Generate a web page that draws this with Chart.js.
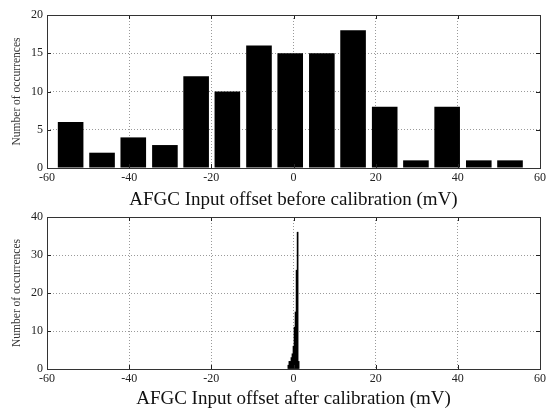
<!DOCTYPE html>
<html>
<head>
<meta charset="utf-8">
<script src="https://cdn.jsdelivr.net/npm/chart.js@4/dist/chart.umd.min.js"></script>
<style>
  html, body { margin: 0; padding: 0; background: #fff; }
  .stage { position: relative; width: 549px; height: 410px; overflow: hidden; }
  canvas { display: block; position: absolute; left: 0; }
</style>
</head>
<body>
<div class="stage">
  <canvas id="before" width="549" height="212" style="top:0"></canvas>
  <canvas id="after" width="549" height="205" style="top:205px"></canvas>
</div>
<script>
// Histogram of the AFGC input offset before calibration (mV bin centres, counts)
const binCentersBefore = [-54.25, -46.6, -39.0, -31.3, -23.7, -16.1, -8.4, -0.8, 6.9, 14.5, 22.2, 29.8, 37.4, 45.1, 52.7];
const countsBefore     = [6, 2, 4, 3, 12, 10, 16, 15, 15, 18, 8, 1, 8, 1, 1];

// Histogram after calibration: narrow bins packed around 0 mV
const binCentersAfter = [-1.25, -1.0, -0.75, -0.5, -0.25, 0.0, 0.25, 0.5, 0.75, 1.0, 1.25];
const countsAfter     = [1, 2, 2, 3, 4, 6, 11, 15, 26, 36, 2];

const offsetMin = -60, offsetMax = 60, offsetStep = 20;
const countMaxBefore = 20, countStepBefore = 5;
const countMaxAfter = 40, countStepAfter = 10;

const SERIF = '"Liberation Serif", "DejaVu Serif", serif';
const GRID = '#9a9a9a';

// Box frame with inward tick marks on all four sides
const framePlugin = {
  id: 'frame',
  afterDatasetsDraw(chart) {
    const { ctx, chartArea: a, scales } = chart;
    ctx.save();
    ctx.strokeStyle = '#222';
    ctx.lineWidth = 1;
    const len = 4;
    ctx.beginPath();
    scales.x.ticks.forEach(t => {
      const px = Math.round(scales.x.getPixelForValue(t.value)) + 0.5;
      ctx.moveTo(px, a.bottom); ctx.lineTo(px, a.bottom - len);
      ctx.moveTo(px, a.top); ctx.lineTo(px, a.top + len);
    });
    scales.y.ticks.forEach(t => {
      const py = Math.round(scales.y.getPixelForValue(t.value)) + 0.5;
      ctx.moveTo(a.left, py); ctx.lineTo(a.left + len, py);
      ctx.moveTo(a.right, py); ctx.lineTo(a.right - len, py);
    });
    ctx.stroke();
    ctx.strokeStyle = '#333';
    ctx.strokeRect(Math.round(a.left) + 0.5, Math.round(a.top) + 0.5,
                   Math.round(a.right - a.left), Math.round(a.bottom - a.top));
    ctx.restore();
  }
};

function histogram(id, centers, counts, yMax, yStep, xTitle, barPct, pad, xAxisH, titlePadBottom) {
  return new Chart(document.getElementById(id), {
    type: 'bar',
    data: {
      datasets: [{
        data: centers.map((c, i) => ({ x: c, y: counts[i] })),
        backgroundColor: '#000',
        borderWidth: 0,
        barPercentage: barPct,
        categoryPercentage: 1
      }]
    },
    options: {
      responsive: false,
      animation: false,
      devicePixelRatio: 1,
      layout: { padding: pad },
      plugins: { legend: { display: false }, tooltip: { enabled: false } },
      scales: {
        x: {
          type: 'linear',
          min: offsetMin, max: offsetMax,
          offset: false,
          afterFit(s) { s.height = xAxisH; },
          ticks: { stepSize: offsetStep, color: '#222', font: { family: SERIF, size: 12 }, padding: 3, maxRotation: 0 },
          grid: { color: GRID, lineWidth: 1, drawTicks: false, offset: false },
          border: { display: false, dash: [1, 2] },
          title: { display: true, text: xTitle, color: '#111', font: { family: SERIF, size: 19 }, padding: { top: 0, bottom: titlePadBottom } }
        },
        y: {
          min: 0, max: yMax,
          afterFit(s) { s.width = 47; },
          ticks: { stepSize: yStep, color: '#222', font: { family: SERIF, size: 12 }, padding: 4 },
          grid: { color: GRID, lineWidth: 1, drawTicks: false },
          border: { display: false, dash: [1, 2] },
          title: { display: true, text: 'Number of occurrences', color: '#333', font: { family: SERIF, size: 11.5 }, padding: { top: 10, bottom: 1 } }
        }
      }
    },
    plugins: [framePlugin]
  });
}

histogram('before', binCentersBefore, countsBefore, countMaxBefore, countStepBefore,
  'AFGC Input offset before calibration (mV)', 0.82, { top: 15, right: 9, left: 0, bottom: 0 }, 44, 1);
histogram('after', binCentersAfter, countsAfter, countMaxAfter, countStepAfter,
  'AFGC Input offset after calibration (mV)', 1.0, { top: 12, right: 9, left: 0, bottom: 0 }, 41, 0);
</script>
</body>
</html>
